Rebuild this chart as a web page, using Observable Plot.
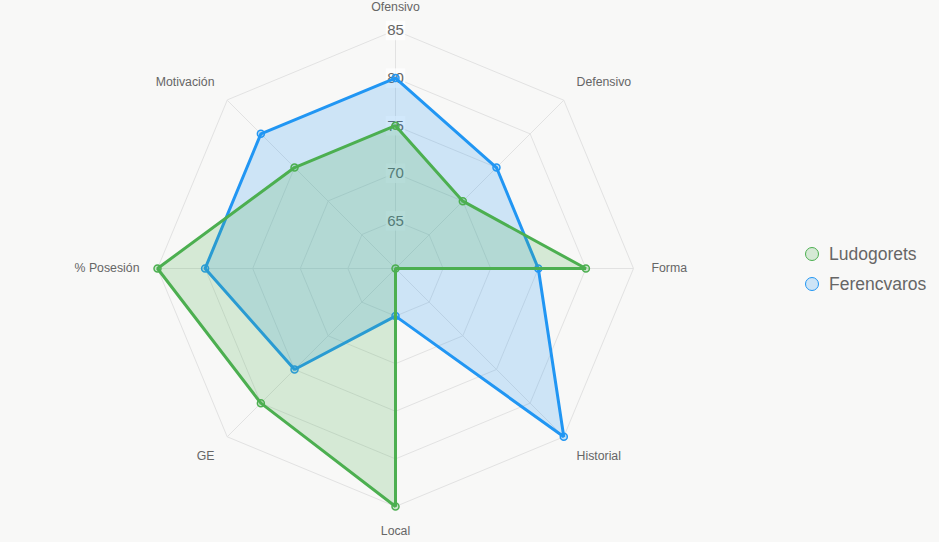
<!DOCTYPE html>
<html><head><meta charset="utf-8">
<script src="https://cdn.jsdelivr.net/npm/d3@7"></script>
<script src="https://cdn.jsdelivr.net/npm/@observablehq/plot@0.6"></script>
<style>
html,body{margin:0;padding:0;background:#f8f8f7;}
#wrap{position:relative;width:939px;height:542px;font-family:"Liberation Sans",Arial,sans-serif;overflow:hidden;}
#legend{position:absolute;left:805px;top:239px;color:#666;font-size:17.5px;}
.item{display:flex;align-items:center;height:30px;}
.sw{width:14px;height:14px;border-radius:50%;border:1.5px solid;box-sizing:border-box;margin-right:10px;}
</style></head><body>
<div id="wrap"><div id="chart"></div><div id="legend"></div></div>
<script>
const axes = ["Ofensivo","Defensivo","Forma","Historial","Local","GE","% Posesión","Motivación"];
const ludogorets = [75,70,80,60,85,80,85,75];
const ferencvaros = [80,75,75,85,65,75,80,80];
const seriesNames = ["Ludogorets","Ferencvaros"];
const seriesColors = ["#4caf50","#2196f3"];
const tickValues = [65,70,75,80,85];
const rMin = 60, rMax = 85;

const n = axes.length;
const ang = i => i * 2 * Math.PI / n;
const px = (v, i) => (v - rMin) * Math.sin(ang(i));
const py = (v, i) => (v - rMin) * Math.cos(ang(i));

const k = 238 / (rMax - rMin); // pixels per unit
const W = 939, H = 542, cx = 395, cy = 268;

const grid = [];
tickValues.forEach(t => axes.forEach((a, i) => grid.push({t, x: px(t, i), y: py(t, i)})));
const spokes = axes.map((a, i) => ({x: px(rMax, i), y: py(rMax, i), label: a, i}));
const tickData = tickValues.map(t => ({t, x: 0, y: t - rMin}));

function seriesData(vals, name) {
  return vals.map((v, i) => ({name, x: px(v, i), y: py(v, i)}));
}
const sF = seriesData(ferencvaros, seriesNames[1]);
const sL = seriesData(ludogorets, seriesNames[0]);

const labelMarks = spokes.map(s => {
  const a = ang(s.i), sn = Math.sin(a), cs = Math.cos(a);
  const anchor = sn > 0.01 ? "start" : sn < -0.01 ? "end" : "middle";
  const la = cs > 0.01 ? "bottom" : cs < -0.01 ? "top" : "middle";
  const dy = cs > 0.01 ? -cs * 20 : cs < -0.01 ? -cs * 19 + 1 : 0;
  return Plot.text([s], {x: "x", y: "y", text: "label", textAnchor: anchor, lineAnchor: la,
    dx: sn * 18, dy, fill: "#666", fontSize: 12.3});
});

function series(data, color, fillOp) {
  return [
    Plot.line(data, {x: "x", y: "y", curve: "linear-closed", fill: color, fillOpacity: fillOp, stroke: color, strokeWidth: 3, strokeLinejoin: "miter"}),
    Plot.dot(data, {x: "x", y: "y", r: 3.5, stroke: color, strokeWidth: 1.5, fill: color, fillOpacity: 0.25})
  ];
}

const plot = Plot.plot({
  width: W, height: H,
  marginTop: 0, marginRight: 0, marginBottom: 0, marginLeft: 0,
  style: {background: "transparent", fontFamily: "'Liberation Sans', Arial, sans-serif"},
  x: {domain: [-cx / k, (W - cx) / k], axis: null},
  y: {domain: [-(H - cy) / k, cy / k], axis: null},
  marks: [
    Plot.line(grid, {x: "x", y: "y", z: "t", curve: "linear-closed", stroke: "#e2e2e2", strokeWidth: 1}),
    Plot.link(spokes, {x1: 0, y1: 0, x2: "x", y2: "y", stroke: "#e2e2e2", strokeWidth: 1}),
    Plot.dot(tickData, {x: "x", y: "y", symbol: "square", r: 11, fill: "white", fillOpacity: 0.75, stroke: null}),
    Plot.text(tickData, {x: "x", y: "y", text: d => String(d.t), fill: "#666", fontSize: 15}),
    ...series(sF, seriesColors[1], 0.2),
    ...series(sL, seriesColors[0], 0.2),
    ...labelMarks
  ]
});
document.getElementById("chart").appendChild(plot);

const fills = ["rgba(76,175,80,0.2)", "rgba(33,150,243,0.2)"];
const legend = document.getElementById("legend");
seriesNames.forEach((s, i) => {
  const it = document.createElement("div"); it.className = "item";
  const sw = document.createElement("span"); sw.className = "sw";
  sw.style.borderColor = seriesColors[i]; sw.style.background = fills[i];
  const tx = document.createElement("span"); tx.textContent = s;
  it.appendChild(sw); it.appendChild(tx); legend.appendChild(it);
});
</script>
</body></html>
